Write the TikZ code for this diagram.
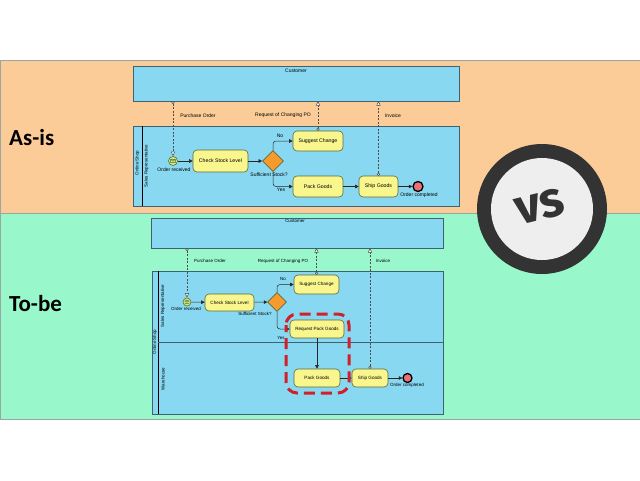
\documentclass[tikz,border=0pt]{standalone}
\usepackage{fontspec}
\setmainfont{Liberation Sans}
\newfontfamily\titlefont{Carlito}
\newfontfamily\vsfont{Fira Sans}
\usetikzlibrary{arrows.meta,shapes.geometric}
\definecolor{bandorange}{HTML}{FBCB98}
\definecolor{bandgreen}{HTML}{99F8CB}
\definecolor{bandedge}{HTML}{9AA7A0}
\definecolor{poolfill}{HTML}{88D8F2}
\definecolor{pooledge}{HTML}{3F6272}
\definecolor{taskfill}{HTML}{F8F68C}
\definecolor{taskedge}{HTML}{5E6A3A}
\definecolor{gwfill}{HTML}{F79A2E}
\definecolor{startfill}{HTML}{C9EC7E}
\definecolor{endfill}{HTML}{EE7077}
\definecolor{vsring}{HTML}{333333}
\definecolor{vsin}{HTML}{EEEEEE}
\definecolor{redbox}{HTML}{D0202A}
\tikzset{
  pool/.style={draw=pooledge,fill=poolfill,line width=0.8pt,inner sep=0,outer sep=0,anchor=north west},
  task/.style={draw=taskedge,fill=taskfill,rounded corners=4pt,line width=0.6pt,inner sep=0,font=\fontsize{5.2}{6}\selectfont},
  taskb/.style={task,font=\fontsize{4.6}{5.5}\selectfont},
  gw/.style={diamond,draw=taskedge,fill=gwfill,line width=0.6pt,inner sep=0},
  startev/.style={circle,draw=taskedge,fill=startfill,line width=0.6pt,inner sep=0},
  endev/.style={circle,draw=black,fill=endfill,line width=1.3pt,inner sep=0},
  lbl/.style={inner sep=0,font=\fontsize{5}{6}\selectfont},
  lblb/.style={inner sep=0,font=\fontsize{4.5}{5.5}\selectfont},
  seq/.style={draw=black!85,line width=0.5pt,-{Triangle[length=3.5pt,width=3.5pt]},rounded corners=3pt},
  msg/.style={draw=black!70,line width=0.5pt,dash pattern=on 2pt off 1.5pt,{Circle[open,length=3pt,width=3pt,fill=white]}-{Triangle[open,length=4.5pt,width=4pt,fill=white]}},
}
\begin{document}
\begin{tikzpicture}[x=1pt,y=-1pt]
\useasboundingbox (0,0) rectangle (640,480);
\fill[white] (0,0) rectangle (640,480);
% bands
\draw[fill=bandorange,draw=bandedge,line width=0.8pt] (0,60) rectangle (640,213);
\draw[fill=bandgreen,draw=bandedge,line width=0.8pt] (0,213) rectangle (640,419);
\node[inner sep=0,anchor=west,font=\titlefont\bfseries\fontsize{23}{26}\selectfont] (asis) at (9,138) {As-is};
\node[inner sep=0,anchor=west,font=\titlefont\bfseries\fontsize{23}{26}\selectfont] (tobe) at (9,304) {To-be};

% ================= TOP (As-is) =================
\node[pool,minimum width=326pt,minimum height=35pt] (cust1) at (133,66) {};
\node[lbl,anchor=north] (cust1l) at (296,68.5) {Customer};
\node[pool,minimum width=326pt,minimum height=80pt] (shop1) at (133,126) {};
\draw[black,line width=0.8pt] (142,126) -- (142,206);
\node[lblb,rotate=90] (shop1l) at (137.5,163) {Online Shop};
\node[lblb,rotate=90] (sales1l) at (146.5,166) {Sales Representative};

\node[startev,minimum size=9pt] (s1) at (173,161) {};
\draw[taskedge,line width=0.4pt] (170.6,159.4) rectangle (175.4,162.6) (170.6,159.4) -- (173,161.2) -- (175.4,159.4);
\node[lbl,anchor=north] (s1l) at (174,167.5) {Order received};
\node[task,minimum width=55pt,minimum height=22pt] (check1) at (220.5,161) {Check Stock Level};
\node[gw,minimum width=21pt,minimum height=21pt] (gw1) at (273,161) {};
\node[lbl,anchor=north] (gw1l) at (269,172.5) {Sufficient Stock?};
\node[task,minimum width=50pt,minimum height=20pt] (sug1) at (318,141) {Suggest Change};
\node[task,minimum width=50pt,minimum height=21pt] (pack1) at (318,186.5) {Pack Goods};
\node[task,minimum width=39pt,minimum height=21pt] (ship1) at (378.5,186.5) {Ship Goods};
\node[endev,minimum size=10pt] (e1) at (418,186.5) {};
\node[lbl,anchor=north] (e1l) at (419,192.5) {Order completed};
\node[lbl] (no1) at (280,135.5) {No};
\node[lbl] (yes1) at (281,190) {Yes};

\draw[seq] (s1) -- (check1);
\draw[seq] (check1) -- (gw1);
\draw[seq] (gw1.north) |- (sug1.west);
\draw[seq] (gw1.south) |- (pack1.west);
\draw[seq] (pack1) -- (ship1);
\draw[seq] (ship1) -- (e1);

\coordinate (c1a) at (173,101);
\coordinate (c1b) at (318,101);
\coordinate (c1c) at (378.5,101);
\draw[msg] (c1a) -- (s1.north);
\draw[msg] (sug1.north) -- (c1b);
\draw[msg] (ship1.north) -- (c1c);
\node[lbl] (po1) at (198,115.5) {Purchase Order};
\node[lbl] (rq1) at (283,115.5) {Request of Changing PO};
\node[lbl] (inv1) at (393,115.5) {Invoice};

% ================= BOTTOM (To-be) =================
\node[pool,minimum width=292pt,minimum height=30pt] (cust2) at (151,218) {};
\node[lblb,anchor=north] (cust2l) at (295,219.5) {Customer};
\node[pool,minimum width=291pt,minimum height=143pt] (shop2) at (152,271) {};
\draw[black,line width=0.8pt] (158,271) -- (158,414);
\draw[pooledge,line width=0.6pt] (158,342.5) -- (443,342.5);
\node[lblb,rotate=90] (shop2l) at (155,342) {Online Shop};
\node[lblb,rotate=90] (sales2l) at (163,306) {Sales Representative};
\node[lblb,rotate=90] (ware2l) at (163,379) {Warehouse};

\node[startev,minimum size=8pt] (s2) at (187,302) {};
\draw[taskedge,line width=0.4pt] (185,300.6) rectangle (189,303.4) (185,300.6) -- (187,302.2) -- (189,300.6);
\node[lblb,anchor=north] (s2l) at (186,307.5) {Order received};
\node[taskb,minimum width=49pt,minimum height=17pt] (check2) at (229.5,302.5) {Check Stock Level};
\node[gw,minimum width=19pt,minimum height=19pt] (gw2) at (277,302) {};
\node[lblb,anchor=north] (gw2l) at (255,312.5) {Sufficient Stock?};
\node[taskb,minimum width=45pt,minimum height=19pt] (sug2) at (316.5,284.5) {Suggest Change};
\node[taskb,minimum width=54pt,minimum height=18pt] (req2) at (317,329) {Request Pack Goods};
\node[taskb,minimum width=46pt,minimum height=18pt] (pack2) at (317,378) {Pack Goods};
\node[taskb,minimum width=36pt,minimum height=18pt] (ship2) at (370,378) {Ship Goods};
\node[endev,minimum size=9pt] (e2) at (407.5,378) {};
\node[lblb,anchor=north] (e2l) at (407,383.5) {Order completed};
\node[lblb] (no2) at (283,279) {No};
\node[lblb] (yes2) at (281,337.5) {Yes};

\draw[seq] (s2) -- (check2);
\draw[seq] (check2) -- (gw2);
\draw[seq] (gw2.north) |- (sug2.west);
\draw[seq] (gw2.south) |- (req2.west);
\draw[seq] (req2) -- (pack2);
\draw[seq] (pack2) -- (ship2);
\draw[seq] (ship2) -- (e2);

\coordinate (c2a) at (187,248);
\coordinate (c2b) at (316.5,248);
\coordinate (c2c) at (370,248);
\draw[msg] (c2a) -- (s2.north);
\draw[msg] (sug2.north) -- (c2b);
\draw[msg] (ship2.north) -- (c2c);
\node[lblb] (po2) at (210,261) {Purchase Order};
\node[lblb] (rq2) at (283,261) {Request of Changing PO};
\node[lblb] (inv2) at (383,261) {Invoice};

% red dashed highlight
\draw[redbox,line width=3pt,dash pattern=on 11pt off 6pt,dash phase=4pt,rounded corners=11pt] (286,314) rectangle (349,393);

% ================= VS =================
\coordinate (vsc) at (542,209);
\fill[vsring] (vsc) circle[radius=65pt];
\fill[vsin] (vsc) circle[radius=51pt];
\node[rotate=14,inner sep=0,font=\vsfont\bfseries\fontsize{50}{52}\selectfont,text=vsring] (vst) at (540,207) {vs};
\end{tikzpicture}
\end{document}
